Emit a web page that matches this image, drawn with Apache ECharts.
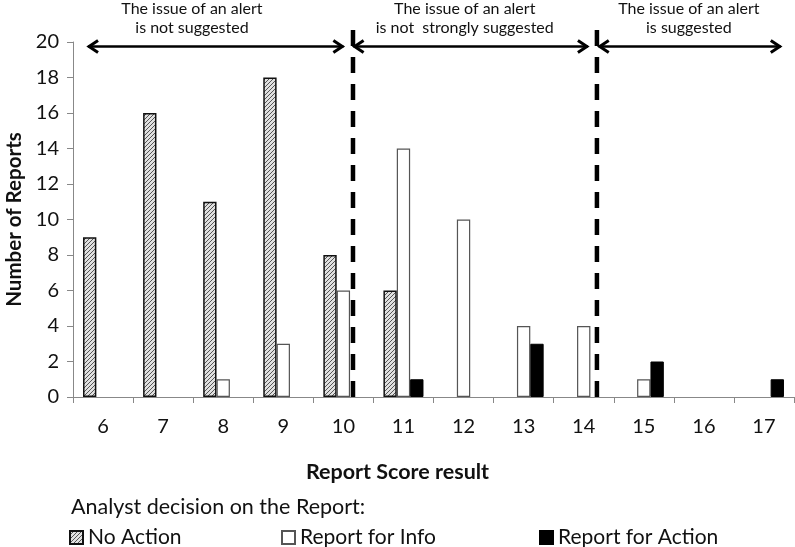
<!DOCTYPE html>
<html>
<head>
<meta charset="utf-8">
<script src="https://cdn.jsdelivr.net/npm/echarts@6/dist/echarts.min.js"></script>
<style>html,body{margin:0;padding:0;background:#fff}#c{width:795px;height:547px}</style>
</head>
<body>
<div id="c"></div>
<script>
const categories = ['6','7','8','9','10','11','12','13','14','15','16','17'];
const noAction = [9,16,11,18,8,6,0,0,0,0,0,0];
const reportInfo = [0,0,1,3,6,14,10,4,4,1,0,0];
const reportAction = [0,0,0,0,0,1,0,3,0,2,0,1];
const yTicks = [0,2,4,6,8,10,12,14,16,18,20];
const seriesNames = ['No Action','Report for Info','Report for Action'];
const thresholds = [10.16, 14.22];
const regionLabels = ['The issue of an alert\nis not suggested','The issue of an alert\nis not  strongly suggested','The issue of an alert\nis suggested'];

const FONT = 'Lato';
function hatch(){
  const c = document.createElement('canvas'); c.width = 4; c.height = 4;
  const g = c.getContext('2d');
  g.fillStyle = '#e0e0e0'; g.fillRect(0,0,4,4);
  g.strokeStyle = '#555'; g.lineWidth = 1;
  g.beginPath(); g.moveTo(-1,5); g.lineTo(5,-1); g.stroke();
  g.beginPath(); g.moveTo(-1,1); g.lineTo(1,-1); g.stroke();
  g.beginPath(); g.moveTo(3,5); g.lineTo(5,3); g.stroke();
  return c;
}
const hatchFill = {image: hatch(), repeat: 'repeat'};
const nz = a => a.map(v => v === 0 ? null : v);

const chart = echarts.init(document.getElementById('c'), null, {renderer:'canvas'});

// annotation geometry in axis units (value x-axis aligned with categories)
const arrows = [[5.75, 10.0],[10.17, 14.07],[14.25, 17.28]];
const labelX = [7.48, 12.02, 15.75];

function renderAnno(params, api){
  const children = [];
  const yTop = 21.05, yArrow = 19.75;
  thresholds.forEach(t => {
    const p0 = api.coord([t, 0]), p1 = api.coord([t, yTop]);
    children.push({type:'line', shape:{x1:p0[0],y1:p0[1],x2:p1[0],y2:p1[1]},
      style:{stroke:'#000', lineWidth:4.5, lineDash:[16,11]}});
  });
  arrows.forEach(a => {
    const p0 = api.coord([a[0], yArrow]), p1 = api.coord([a[1], yArrow]);
    const y = p0[1];
    children.push({type:'line', shape:{x1:p0[0],y1:y,x2:p1[0],y2:y}, style:{stroke:'#000', lineWidth:2.5}});
    children.push({type:'polyline', shape:{points:[[p0[0]+10,y-6],[p0[0]+1,y],[p0[0]+10,y+6]]}, style:{stroke:'#000', lineWidth:3, fill:null}});
    children.push({type:'polyline', shape:{points:[[p1[0]-10,y-6],[p1[0]-1,y],[p1[0]-10,y+6]]}, style:{stroke:'#000', lineWidth:3, fill:null}});
  });
  regionLabels.forEach((txt, i) => {
    const p = api.coord([labelX[i], 21.33]);
    children.push({type:'text', style:{text:txt, x:p[0], y:p[1], align:'center', verticalAlign:'middle',
      font:'16px ' + FONT, fill:'#111', lineHeight:19}});
  });
  return {type:'group', children};
}

const legendText = {fontFamily:FONT, fontSize:21, color:'#111'};
const option = {
  animation:false,
  backgroundColor:'#fff',
  textStyle:{fontFamily:FONT},
  title:{text:'Analyst decision on the Report:', left:66, top:491,
    textStyle:{fontFamily:FONT, fontSize:21.5, fontWeight:'normal', color:'#111'}},
  legend:[
    {data:[seriesNames[0]], left:64, top:522, icon:'rect', itemWidth:13, itemHeight:13, textStyle:legendText},
    {data:[seriesNames[1]], left:276, top:522, icon:'rect', itemWidth:13, itemHeight:13, textStyle:legendText},
    {data:[seriesNames[2]], left:534, top:522, icon:'rect', itemWidth:13, itemHeight:13, textStyle:legendText}
  ],
  grid:{left:73, right:1, top:42, bottom:150, containLabel:false, outerBoundsMode:'none'},
  xAxis:[
    {type:'category', data:categories,
      axisLine:{lineStyle:{color:'#888', width:1}},
      axisTick:{show:true, length:6, lineStyle:{color:'#888'}},
      axisLabel:{fontFamily:FONT, fontSize:20, color:'#111', margin:20},
      name:'Report Score result', nameLocation:'middle', nameGap:64,
      nameTextStyle:{fontFamily:FONT, fontSize:21.5, fontWeight:'bold', color:'#111', padding:[0,72,0,0]}},
    {type:'value', min:5.5, max:17.5, show:false}
  ],
  yAxis:{type:'value', min:yTicks[0], max:yTicks[yTicks.length-1], interval:2,
    axisLine:{show:true, lineStyle:{color:'#888'}},
    axisTick:{show:true, length:6, lineStyle:{color:'#888'}},
    splitLine:{show:false},
    axisLabel:{fontFamily:FONT, fontSize:20, color:'#111', margin:14},
    name:'Number of Reports', nameLocation:'middle', nameGap:47, nameRotate:90,
    nameTextStyle:{fontFamily:FONT, fontSize:20.5, fontWeight:'bold', color:'#111'}},
  series:[
    {name:seriesNames[0], type:'bar', data:nz(noAction), barGap:'0%', barCategoryGap:'33.34%',
      itemStyle:{color:hatchFill, borderColor:'#111', borderWidth:1.5}},
    {name:seriesNames[1], type:'bar', data:nz(reportInfo),
      itemStyle:{color:'#fff', borderColor:'#555', borderWidth:1.2}},
    {name:seriesNames[2], type:'bar', data:nz(reportAction),
      itemStyle:{color:'#000', borderColor:'#000', borderWidth:1}},
    {type:'custom', xAxisIndex:1, yAxisIndex:0, data:[[0,0]], renderItem:renderAnno, silent:true, clip:false, z:5}
  ]
};
chart.setOption(option);
</script>
</body>
</html>
